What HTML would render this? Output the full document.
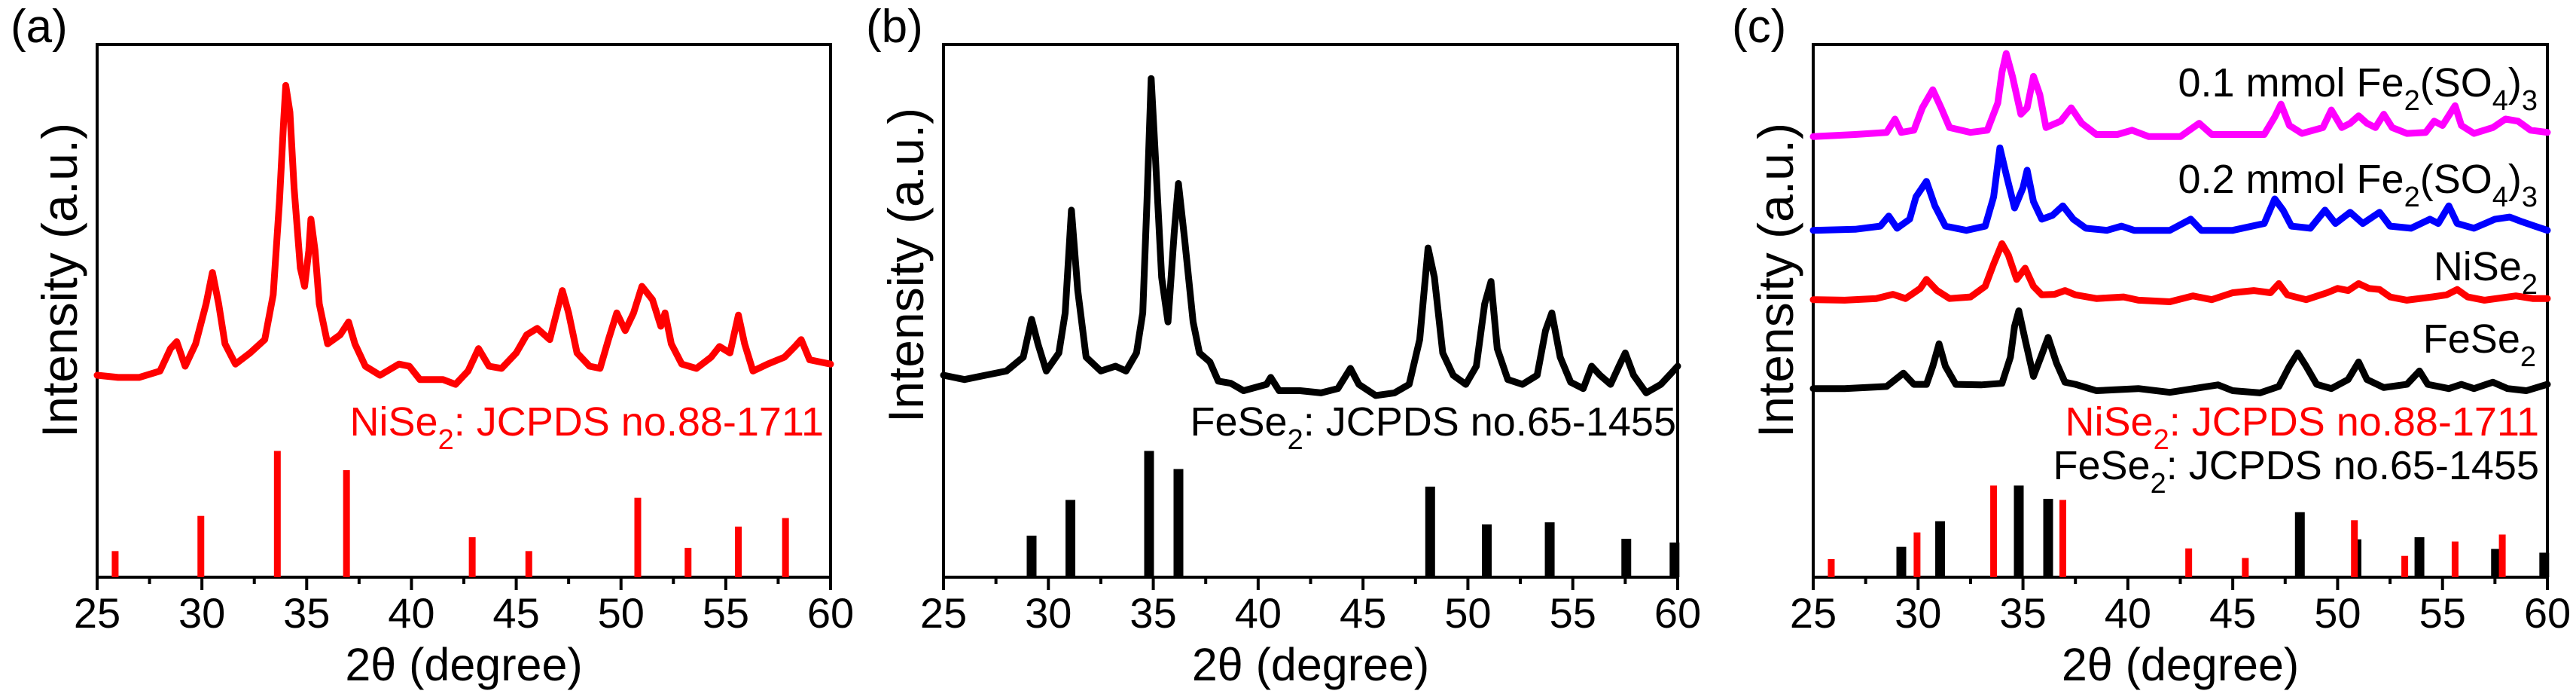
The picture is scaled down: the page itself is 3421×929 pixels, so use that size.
<!DOCTYPE html>
<html><head><meta charset="utf-8"><style>
html,body{margin:0;padding:0;background:#fff;}
svg{display:block;font-family:"Liberation Sans",Arial,sans-serif;}
</style></head><body>
<svg id="fig" width="3421" height="929" viewBox="0 0 3421 929" xmlns="http://www.w3.org/2000/svg"></svg>
<script>
// ---------- data (2θ in degrees, intensity in a.u. 0-100) ----------
const xTicks = [25,30,35,40,45,50,55,60];
const niSe2A_x = [25,26,27,28,28.5,28.8,29.2,29.7,30.2,30.5,30.8,31.1,31.6,32.3,33,33.4,33.7,33.9,34,34.2,34.4,34.7,34.9,35.1,35.2,35.4,35.6,36,36.6,37,37.3,37.8,38.5,39.4,39.9,40.4,41.5,42.1,42.7,43.2,43.7,44.3,45,45.5,46,46.6,47.2,47.5,47.9,48.5,49,49.4,49.8,50.2,50.6,51,51.5,51.9,52.1,52.4,52.9,53.6,54.3,54.7,55.2,55.6,55.9,56.3,57,57.8,58.3,58.6,59,59.5,60];
const niSe2A_y = [37.9,37.5,37.5,38.7,42.9,44.2,39.6,43.8,51.3,57.2,51.3,43.8,40,42.1,44.6,53,70.5,85.6,92.3,87.3,73,58,54.6,61.3,67.2,61.3,51.3,43.8,45.5,47.9,43.8,39.6,37.9,40,39.6,37.1,37.1,36.2,38.7,42.9,39.6,39.2,42.1,45.5,46.7,44.6,53.8,49.6,42.1,39.6,39.2,44.6,49.6,46.3,49.6,54.6,52.1,47.1,49.6,43.8,40,39.2,41.3,43.3,42.1,49.2,43.8,38.7,40,41.3,43.3,44.6,40.8,40.4,40];
const feSe2B_x = [25,26,27,28,28.8,29.2,29.5,29.9,30.5,30.8,31.1,31.4,31.8,32.5,33.2,33.7,34.2,34.5,34.7,34.9,35.1,35.4,35.7,36,36.2,36.5,36.9,37.2,37.7,38.1,38.7,39.3,40.4,40.6,41,42,43,43.8,44.4,44.8,45.6,46.5,47.2,47.7,48.1,48.4,48.8,49.3,49.9,50.4,50.8,51.1,51.4,51.9,52.6,53.3,53.7,54,54.4,54.9,55.5,55.9,56.3,56.8,57.2,57.5,57.9,58.5,59.2,59.7,60];
const feSe2B_y = [37.9,37.1,37.9,38.7,41.3,48.4,43.8,38.7,42.1,49.6,68.9,53.8,41.3,38.7,39.6,38.7,42.1,49.6,70.5,93.6,78.9,56.3,47.9,64.7,73.9,63.2,47.9,42.1,40.4,36.8,36.4,35,36.2,37.5,35,35,34.6,35.4,39.2,36.2,34.1,34.6,36.2,44.6,61.8,56.3,42.1,37.9,36.2,39.6,51.3,55.5,42.9,37.1,36.2,37.9,46.3,49.6,41.3,36.6,35.4,39.6,37.9,36.2,39.6,42.1,37.9,34.6,36.2,38.3,39.6];
const mag_x = [25,27,28.5,28.9,29.2,29.8,30.2,30.7,31.1,31.5,32.5,33.3,33.8,34,34.2,34.5,34.9,35.2,35.5,35.8,36.1,36.8,37.3,37.8,38.5,39.5,40.2,41,42.5,43.4,44,45,46.5,47,47.3,47.7,48.3,49.3,49.7,50.2,50.6,51,51.4,51.8,52.2,52.6,53.3,54.2,54.6,55,55.6,55.9,56.5,57.4,58,58.6,59.2,60];
const mag_y = [82.7,83.1,83.5,86.0,83.5,83.9,88.1,91.5,88.1,84.4,83.5,83.9,89.0,94.8,98.3,94.0,86.9,88.1,94.0,90.6,84.4,85.6,88.1,85.2,83.1,83.1,83.9,82.7,82.7,85.2,83.1,83.1,83.1,86.4,88.8,84.8,83.3,84.4,87.7,84.4,85.2,86.6,85.2,84.4,86.9,84.4,83.3,83.5,85.6,84.8,88.5,84.8,83.3,84.4,86.0,85.6,83.9,83.5];
const blue_x = [25,27,28.2,28.6,29,29.6,29.9,30.4,30.8,31.3,32.3,33.2,33.6,33.9,34.2,34.6,35,35.2,35.5,35.9,36.4,36.9,37.4,38,39,39.7,40.3,42,43,43.5,45,46.5,47,47.4,47.8,48.7,49.4,49.9,50.6,51.2,52,52.5,53.5,54.4,54.8,55.3,55.7,56.5,57.5,58.2,58.8,59.4,60];
const blue_y = [65.1,65.3,65.9,67.8,65.5,67.2,71.4,74.3,69.7,65.9,65.1,65.9,71.4,80.6,75.6,69.3,73.1,76.4,70.5,67.2,67.9,69.7,67.2,65.5,65.1,65.9,65.1,65.1,67.2,65.1,65.1,66.4,71.0,68.9,65.9,65.5,68.9,66.4,68.5,66.4,68.5,65.9,65.5,67.2,66.4,69.7,66.4,65.5,67.2,67.6,66.7,65.9,65.1];
const red_x = [25,26.5,28,28.8,29.4,30.1,30.4,30.9,31.5,32.5,33.2,33.6,34,34.3,34.7,35.1,35.5,35.9,36.5,37,37.5,38.5,39.8,40.5,42,43.1,44,45,46,46.8,47.2,47.6,48.5,49.5,50,50.5,51,51.5,52,52.5,53.3,54.5,55.2,55.7,56.2,57,58.5,59.3,60];
const red_y = [52.1,52.0,52.3,53.1,52.3,54.2,55.9,53.8,52.3,52.6,54.6,58.8,62.6,60.5,55.9,58.0,54.6,53.0,53.1,53.8,53.0,52.3,52.6,52.0,51.7,52.8,52.1,53.4,53.8,53.4,55.1,53.0,52.1,53.4,54.2,53.8,55.1,54.2,54.0,52.6,52.0,52.6,53.0,54.0,52.6,52.0,52.8,52.3,52.3];
const blk_x = [25,26.5,28.5,29.3,29.8,30.4,30.7,31,31.3,31.8,33,34,34.4,34.6,34.8,35.1,35.5,35.9,36.2,36.6,37,37.5,38.5,40.5,42,44.3,45,46.3,47.2,47.7,48.1,48.5,49,49.7,50.5,51,51.4,52.2,53.3,53.9,54.3,55.3,55.9,56.5,57.4,58.1,59,60];
const blk_y = [35.4,35.4,35.8,38.3,36.2,36.2,39.6,43.8,39.6,36.2,36.1,36.4,41.3,47.1,50.0,44.6,37.7,41.8,45.0,40.2,36.6,36.2,35.0,35.4,34.7,36.1,35.0,34.6,35.8,39.6,42.1,39.6,36.2,35.4,37.1,40.4,37.1,35.6,36.2,38.7,36.2,35.4,36.2,35.4,36.6,35.4,35.0,36.2];
// reference sticks
const niStick_x = [25.86,29.95,33.6,36.9,42.9,45.6,50.8,53.2,55.6,57.85];
const niStickA_h = [4.9,11.5,23.7,20.1,7.5,4.9,14.9,5.5,9.5,11.1];
const niStickC_h = [3.4,8.4,17.2,14.5,5.4,3.6,10.7,4.0,6.7,8.0];
const feStick_x = [29.2,31.05,34.8,36.2,48.2,50.9,53.9,57.55,59.85];
const feStickB_h = [7.8,14.5,23.7,20.3,17,9.9,10.3,7.2,6.5];
const feStickC_h = [5.7,10.5,17.2,14.7,12.2,7.1,7.5,5.3,4.6];

// ---------- drawing ----------
const NS = "http://www.w3.org/2000/svg";
const svg = document.getElementById('fig');
const TOP = 59, BOT = 766;
function mk(tag, attrs, parent){
  const e = document.createElementNS(NS, tag);
  for (const k in attrs) e.setAttribute(k, attrs[k]);
  (parent||svg).appendChild(e);
  return e;
}
function makeAxes(L, R){
  return {
    x: v => L + (v-25)/35*(R-L),
    y: v => BOT - v/100*(BOT-TOP)
  };
}
function panel(id, L, R, letter, titleCy){
  const g = mk('g', {});
  
  
  const ax = makeAxes(L, R);
  const fr = mk('rect', {x:L, y:TOP, width:R-L, height:BOT-TOP, fill:'none', stroke:'#000', 'stroke-width':4}, g);
  
  
  for (let v=25; v<=60; v+=2.5){
    const major = (v % 5 === 0);
    const t = mk('line', {x1:ax.x(v), x2:ax.x(v), y1:BOT, y2:BOT+(major?17:9), stroke:'#000', 'stroke-width':4}, g);
    
    
  }
  xTicks.forEach(v => {
    const t = mk('text', {x:ax.x(v), y:833, 'font-size':56, 'text-anchor':'middle', fill:'#000'}, g);
    t.textContent = v;
    
    
  });
  const xt = mk('text', {x:(L+R)/2, y:903, 'font-size':61, 'text-anchor':'middle', fill:'#000'}, g);
  xt.textContent = '2θ (degree)';
  
  
  const yt = mk('text', {x:0, y:0, 'font-size':66, 'text-anchor':'middle', fill:'#000', transform:`translate(${L-27},${titleCy}) rotate(-90)`}, g);
  yt.textContent = 'Intensity (a.u.)';
  
  
  const pl = mk('text', {x:letter, y:56, 'font-size':62, fill:'#000'}, g);
  pl.textContent = '(' + id + ')';
  
  
  return {g, ax};
}
function curve(p, xs, ys, color, name){
  const d = xs.map((v,i) => (i?'L':'M') + p.ax.x(v).toFixed(1) + ' ' + p.ax.y(ys[i]).toFixed(1)).join(' ');
  const e = mk('path', {d, fill:'none', stroke:color, 'stroke-width':9, 'stroke-linejoin':'round', 'stroke-linecap':'round'}, p.g);
  
  
}
function sticks(p, xs, hs, color, w, name){
  xs.forEach((v,i) => {
    const e = mk('rect', {x:p.ax.x(v)-w/2, y:p.ax.y(hs[i]), width:w, height:BOT-p.ax.y(hs[i]), fill:color}, p.g);
    
    
  });
}
function label(p, x, y, parts, color, name){
  const t = mk('text', {x, y, 'font-size':54, 'text-anchor':'end', fill:color}, p.g);
  
  
  parts.forEach(pt => {
    const s = mk('tspan', pt[1] ? {'font-size':38, dy:18} : {dy:pt[2]||0}, t);
    s.textContent = pt[0];
  });
}

const pa = panel('a', 129, 1103, 14, 372);
curve(pa, niSe2A_x, niSe2A_y, '#ff0000', 'nise2-pattern');
sticks(pa, niStick_x, niStickA_h, '#ff0000', 9, 'nise2-reference-stick');
label(pa, 1094, 578, [['NiSe'],['2',1],[': JCPDS no.88-1711',0,-18]], '#ff0000', 'nise2-jcpds-label');

const pb = panel('b', 1253, 2228, 1150, 352);
curve(pb, feSe2B_x, feSe2B_y, '#000000', 'fese2-pattern');
sticks(pb, feStick_x, feStickB_h, '#000000', 13, 'fese2-reference-stick');
label(pb, 2226, 578, [['FeSe'],['2',1],[': JCPDS no.65-1455',0,-18]], '#000000', 'fese2-jcpds-label');

const pc = panel('c', 2408, 3383, 2300, 372);
curve(pc, mag_x, mag_y, '#ff00ff', 'pattern-0.1mmol');
curve(pc, blue_x, blue_y, '#0000ff', 'pattern-0.2mmol');
curve(pc, red_x, red_y, '#ff0000', 'pattern-nise2');
curve(pc, blk_x, blk_y, '#000000', 'pattern-fese2');
sticks(pc, feStick_x, feStickC_h, '#000000', 13, 'fese2-reference-stick');
sticks(pc, niStick_x, niStickC_h, '#ff0000', 9, 'nise2-reference-stick');
label(pc, 3370, 128, [['0.1 mmol Fe'],['2',1],['(SO',0,-18],['4',1],[')',0,-18],['3',1]], '#000', 'label-0.1mmol');
label(pc, 3370, 256, [['0.2 mmol Fe'],['2',1],['(SO',0,-18],['4',1],[')',0,-18],['3',1]], '#000', 'label-0.2mmol');
label(pc, 3370, 372, [['NiSe'],['2',1]], '#000', 'label-nise2');
label(pc, 3368, 468, [['FeSe'],['2',1]], '#000', 'label-fese2');
label(pc, 3372, 578, [['NiSe'],['2',1],[': JCPDS no.88-1711',0,-18]], '#ff0000', 'nise2-jcpds-label');
label(pc, 3372, 636, [['FeSe'],['2',1],[': JCPDS no.65-1455',0,-18]], '#000000', 'fese2-jcpds-label');
</script>
</body></html>
